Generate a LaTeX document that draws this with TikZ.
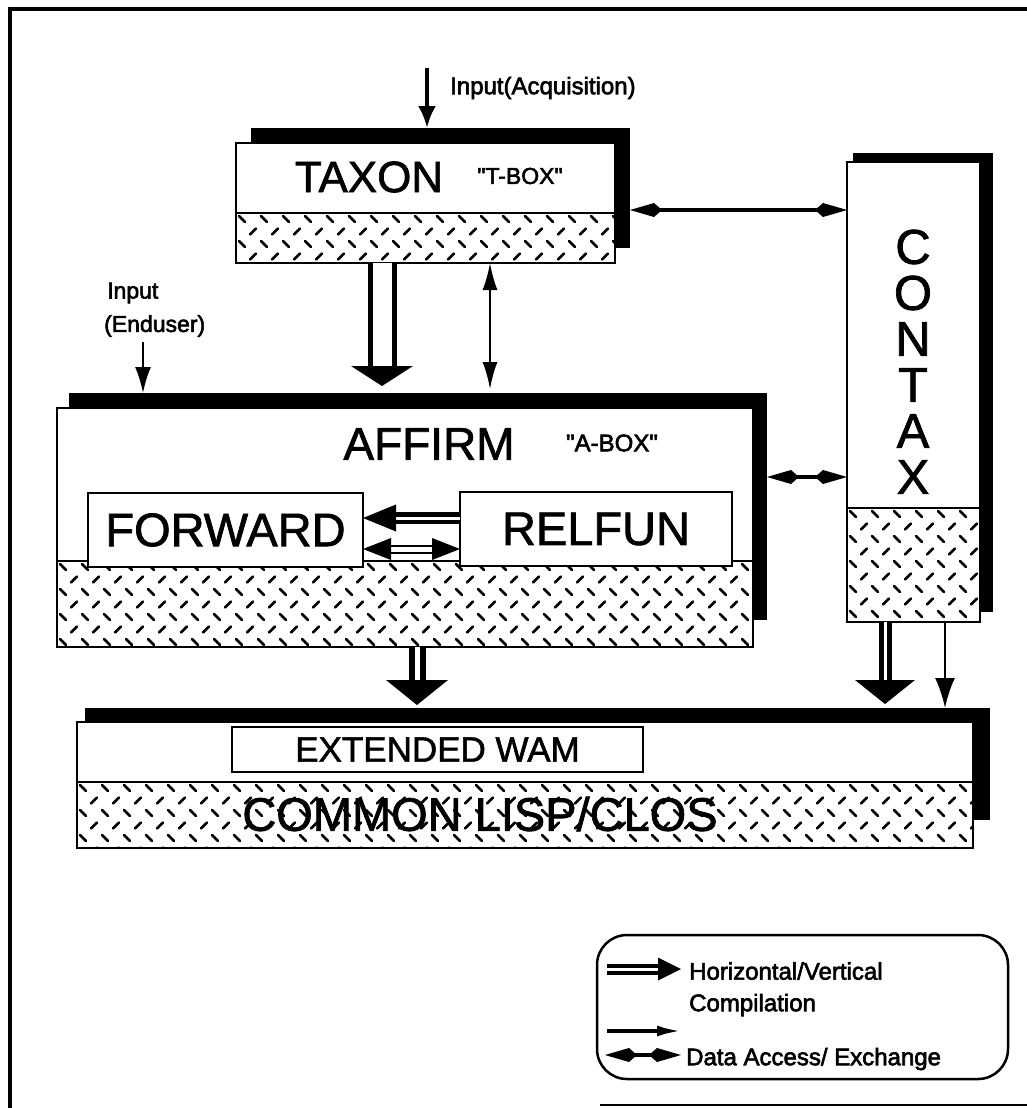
\documentclass[tikz,border=0pt]{standalone}
\usepackage{fontspec}
\setmainfont{Liberation Sans}
\newfontfamily\lab{Liberation Sans}[FakeBold=1.5]
\newfontfamily\labs{Liberation Sans}[FakeBold=2.5]
\usetikzlibrary{arrows.meta,calc}
\newcommand\fs[1]{\lab\fontsize{#1}{#1}\selectfont}
\newcommand\fss[1]{\labs\fontsize{#1}{#1}\selectfont}
\tikzset{
  shadowrect/.style={fill=black, draw=none, inner sep=0pt, outer sep=0pt, anchor=north west},
  boxrect/.style={fill=white, draw=none, inner sep=0pt, outer sep=0pt, anchor=north west},
  outl/.style={draw=black, line width=2.6pt},
  innerbox/.style={fill=white, draw=black, line width=2.3pt, inner sep=0pt, outer sep=0pt, anchor=north west},
  hatchdash/.style={line width=2.6pt, line cap=round},
  lbl/.style={inner sep=0pt, text=black},
  kitetip/.tip={Kite[length=32pt,width=14pt,inset=8pt]},
  data/.style={line width=3.4pt, kitetip-kitetip},
  thinarrow/.style={line width=2pt, -{Latex[length=26pt,width=16pt]}},
}
% diamond-plate hatch: rows alternate orientation, staggered
\newcommand\hatchfill[4]{%
  \begin{scope}
    \clip (#1,#2) rectangle (#3,#4);
    \pgfmathtruncatemacro\nc{(#3-#1)/22+1}
    \pgfmathtruncatemacro\nr{(#4-#2)/12.5+1}
    \foreach \j in {0,...,\nr}{
      \pgfmathsetmacro\sg{ifthenelse(mod(\j,2)==0,1,-1)}
      \pgfmathsetmacro\off{ifthenelse(mod(\j,2)==0,0,11)}
      \foreach \i in {0,...,\nc}{
        \draw[hatchdash] ({#1+6+\off+\i*22-3},{#2+6+\j*12.5-3*\sg}) -- ++(6,{6*\sg});
      }}
  \end{scope}}
% compilation arrow: start, end, line width, gap, head length, head half width
\newcommand\compar[6]{%
  \draw[line width=#3, double=white, double distance=#4, shorten >=#5-1pt] (#1) -- (#2);
  \path ($(#2)!#5!(#1)$) coordinate (hb);
  \fill ($(hb)!#6!90:(#2)$) -- (#2) -- ($(hb)!#6!-90:(#2)$) -- cycle;}
\begin{document}
\begin{tikzpicture}[x=1pt,y=-1pt]
\useasboundingbox (0,0) rectangle (1027,1108);
% frame
\draw[line width=4pt] (8,9) -- (1027,9);
\draw[line width=4pt] (10,7) -- (10,1108);
\draw[line width=2.5pt] (600,1105) -- (1027,1105);

% shadows
\node[shadowrect, minimum width=379pt, minimum height=120pt] (taxonsh) at (251,128) {};
\node[shadowrect, minimum width=140pt, minimum height=459pt] (contaxsh) at (853,153) {};
\node[shadowrect, minimum width=698pt, minimum height=227pt] (affirmsh) at (69,393) {};
\node[shadowrect, minimum width=905pt, minimum height=112pt] (commonsh) at (85,708) {};

% main boxes
\node[boxrect, minimum width=379pt, minimum height=120pt] (taxon) at (236,143) {};
\node[boxrect, minimum width=133pt, minimum height=460pt] (contax) at (847,162) {};
\node[boxrect, minimum width=696pt, minimum height=239pt] (affirm) at (57,408) {};
\node[boxrect, minimum width=896pt, minimum height=126pt] (common) at (77,722) {};

\hatchfill{236}{213}{615}{263}
\hatchfill{847}{508}{980}{622}
\hatchfill{57}{561}{753}{647}
\hatchfill{77}{782}{973}{848}

\draw[outl] (taxon.north west) rectangle (taxon.south east);
\draw[outl] (contax.north west) rectangle (contax.south east);
\draw[outl] (affirm.north west) rectangle (affirm.south east);
\draw[outl] (common.north west) rectangle (common.south east);
\draw[outl] (taxon.west |- 0,213) -- (taxon.east |- 0,213);
\draw[outl] (contax.west |- 0,508) -- (contax.east |- 0,508);
\draw[outl] (affirm.west |- 0,561) -- (affirm.east |- 0,561);
\draw[outl] (common.west |- 0,782) -- (common.east |- 0,782);

% inner boxes
\node[innerbox, minimum width=275pt, minimum height=74pt] (forward) at (88,493) {};
\node[innerbox, minimum width=272pt, minimum height=74pt] (relfun) at (460,492) {};
\node[innerbox, minimum width=411pt, minimum height=45pt] (wam) at (232,727) {};

% texts
\node[lbl, font=\fs{44}] (ttaxon) at (369,177) {TAXON};
\node[lbl, font=\fss{23}] (ttbox) at (520,176) {"T-BOX"};
\node[lbl, font=\fs{46}] (taffirm) at (429,444) {AFFIRM};
\node[lbl, font=\fss{24}] (tabox) at (612,443) {"A-BOX"};
\node[lbl, font=\fs{47}] (tforward) at (forward.center) {FORWARD};
\node[lbl, font=\fs{47}] (trelfun) at (relfun.center) {RELFUN};
\node[lbl, font=\fs{35}] (twam) at (wam.center) {EXTENDED WAM};
\node[lbl, font=\fs{47}] (tcommon) at (480,814) {COMMON LISP/CLOS};
\foreach \ch [count=\k from 0] in {C,O,N,T,A,X}{
  \node[lbl, font=\fs{49}] (tc\k) at (913,{247+46*\k}) {\ch};
}
\node[lbl, font=\fss{24}, anchor=west] (tinacq) at (450,88) {Input(Acquisition)};
\node[lbl, font=\fss{23}, anchor=west] (tinput) at (107,293) {Input};
\node[lbl, font=\fss{23}, anchor=west] (tenduser) at (104,326) {(Enduser)};

% input arrows
\coordinate (inacq) at (427,68);
\draw[line width=4pt, -{Latex[length=22pt,width=18pt]}] (inacq) -- (inacq |- taxonsh.north);
\coordinate (inend) at (143,342);
\draw[thinarrow] (inend) -- (inend |- affirmsh.north);

% TAXON -> AFFIRM compilation
\coordinate (c1s) at (taxon.south -| 382,0);
\coordinate (c1e) at (382,386);
\compar{c1s}{c1e}{5pt}{19pt}{20pt}{31pt}
% TAXON <-> AFFIRM data
\coordinate (d1s) at (taxon.south -| 490,0);
\coordinate (d1e) at (490,389);
\draw[line width=2pt, {Latex[length=27pt,width=15pt]}-{Latex[length=27pt,width=15pt]}] (d1s) -- (d1e);

% TAXON <-> CONTAX
\draw[data] (taxonsh.east |- 0,210) -- (contax.west |- 0,210);
% AFFIRM <-> CONTAX
\draw[data] (affirmsh.east |- 0,477) -- (contax.west |- 0,477);

% RELFUN -> FORWARD compilation
\coordinate (c3s) at (relfun.west |- 0,518);
\coordinate (c3e) at (forward.east |- 0,518);
\compar{c3s}{c3e}{4.5pt}{3pt}{33pt}{13.5pt}
% FORWARD <-> RELFUN data exchange
\coordinate (d3s) at (forward.east |- 0,549);
\coordinate (d3e) at (relfun.west |- 0,549);
\draw[line width=2pt, double=white, double distance=5pt, shorten <=27pt, shorten >=27pt] (d3s) -- (d3e);
\path ($(d3e)!28pt!(d3s)$) coordinate (hbr) ($(d3s)!28pt!(d3e)$) coordinate (hbl);
\fill ($(hbr)!11pt!90:(d3e)$) -- (d3e) -- ($(hbr)!11pt!-90:(d3e)$) -- cycle;
\fill ($(hbl)!11pt!90:(d3s)$) -- (d3s) -- ($(hbl)!11pt!-90:(d3s)$) -- cycle;

% AFFIRM -> COMMON compilation
\coordinate (c4s) at (affirm.south -| 417,0);
\coordinate (c4e) at (417,705);
\compar{c4s}{c4e}{6pt}{5pt}{25pt}{31pt}
% CONTAX -> COMMON compilation
\coordinate (c5s) at (contax.south -| 885,0);
\coordinate (c5e) at (885,704);
\compar{c5s}{c5e}{5pt}{3pt}{24pt}{30pt}
% CONTAX -> COMMON data
\coordinate (d5s) at (contax.south -| 945,0);
\draw[line width=2.5pt, -{Latex[length=30pt,width=20pt]}] (d5s) -- (d5s |- commonsh.north);

% legend
\draw[line width=2.5pt, rounded corners=30pt] (597,935) rectangle (1008,1079);
\node[lbl, font=\fss{24}, anchor=west] (lh) at (689,971) {Horizontal/Vertical};
\node[lbl, font=\fss{24}, anchor=west] (lc) at (689,1005) {Compilation};
\node[lbl, font=\fss{24}, anchor=west] (ld) at (686,1059) {Data Access/ Exchange};
\coordinate (lg1a) at (607,969);
\coordinate (lg1b) at (681,969);
\compar{lg1a}{lg1b}{4pt}{3pt}{23pt}{11.5pt}
\coordinate (lg2a) at (607,1031);
\coordinate (lg2b) at (681,1031);
\draw[line width=3.5pt, -{Latex[length=24pt,width=11pt]}] (lg2a) -- (lg2b);
\coordinate (lg3a) at (605,1055);
\coordinate (lg3b) at (681,1055);
\draw[data] (lg3a) -- (lg3b);
\end{tikzpicture}
\end{document}
